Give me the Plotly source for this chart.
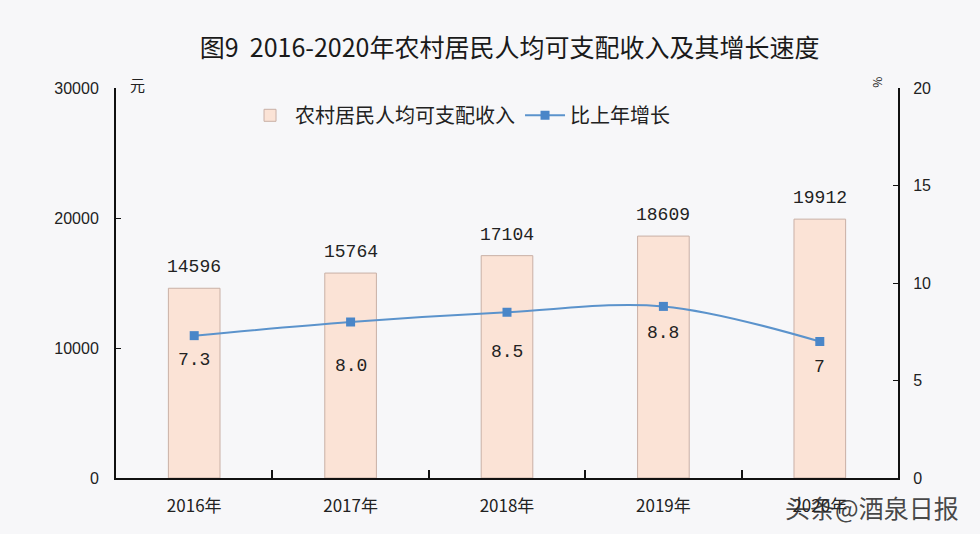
import plotly.graph_objects as go

years = ["2016年", "2017年", "2018年", "2019年", "2020年"]
income = [14596, 15764, 17104, 18609, 19912]
growth = [7.3, 8.0, 8.5, 8.8, 7]
growth_text = ["7.3", "8.0", "8.5", "8.8", "7"]

# label offsets below the markers (px), as placed in the original
growth_label_shift = [-24, -44, -40, -27, -25]

bar_fill = "#fbe3d6"
bar_edge = "#c9b0a6"
line_color = "#5b93cc"
marker_color = "#4a86c8"
cjk = "Noto Sans CJK SC"
mono = "Liberation Mono"

fig = go.Figure()

fig.add_trace(go.Bar(
    x=years, y=income, name="农村居民人均可支配收入",
    width=0.33,
    marker=dict(color=bar_fill, line=dict(color=bar_edge, width=1)),
))

fig.add_trace(go.Scatter(
    x=years, y=growth, name="比上年增长", yaxis="y2",
    mode="lines+markers",
    line=dict(color=line_color, width=2, shape="spline", smoothing=1),
    marker=dict(symbol="square", size=9, color=marker_color),
))

# value labels above the bars
for yr, v in zip(years, income):
    fig.add_annotation(x=yr, y=v, text=str(v), showarrow=False, yshift=21,
                       font=dict(family=mono, size=18, color="#222"))

for yr, g, t, dy in zip(years, growth, growth_text, growth_label_shift):
    fig.add_annotation(x=yr, y=g, yref="y2", text=t, showarrow=False,
                       yshift=dy, font=dict(family=mono, size=18, color="#222"))

fig.add_annotation(text="元", xref="paper", yref="paper", x=0.015, y=1.04,
                   showarrow=False, font=dict(family=cjk, size=15, color="#222"))
fig.add_annotation(text="%", xref="paper", yref="paper", x=0.988, y=1.035,
                   showarrow=False, textangle=90,
                   font=dict(family=cjk, size=12, color="#222"))

# watermark laid over the last category label, as in the source image
fig.add_annotation(text="头条@酒泉日报", xref="paper", yref="paper",
                   x=1.08, y=-0.125, xanchor="right", showarrow=False,
                   font=dict(family=cjk, size=25, color="rgba(40,40,40,0.85)"))

fig.update_layout(
    width=980, height=534,
    title=dict(text="图9  2016-2020年农村居民人均可支配收入及其增长速度",
               x=0.52, xanchor="center", y=0.91, yanchor="middle",
               font=dict(family=cjk, size=25, color="#1a1a1a")),
    font=dict(family=cjk, color="#222"),
    paper_bgcolor="#f7f7f9", plot_bgcolor="#f7f7f9",
    margin=dict(l=116, r=82, t=88, b=56),
    showlegend=True,
    legend=dict(orientation="h", x=0.165, y=0.93, xanchor="left", yanchor="middle",
                bgcolor="rgba(0,0,0,0)", font=dict(family=cjk, size=20, color="#222"),
                itemwidth=40),
    xaxis=dict(showline=True, linecolor="#111", linewidth=2,
               ticks="inside", ticklen=8, tickcolor="#111", tickwidth=2,
               tickson="boundaries", showgrid=False,
               tickfont=dict(family=cjk, size=17, color="#222"),
               ticklabelstandoff=12),
    yaxis=dict(range=[0, 30000], dtick=10000, tickformat="d",
               showline=True, linecolor="#111",
               linewidth=2, ticks="inside", ticklen=5, tickcolor="#111",
               showgrid=False, zeroline=False,
               tickfont=dict(family="Liberation Sans", size=16, color="#222"),
               ticklabelstandoff=12),
    yaxis2=dict(range=[0, 20], dtick=5, overlaying="y", side="right",
                showline=True, linecolor="#111", linewidth=2,
                ticks="inside", ticklen=5, tickcolor="#111",
                showgrid=False, zeroline=False,
                tickfont=dict(family="Liberation Sans", size=16, color="#222"),
                ticklabelstandoff=10),
)

fig.write_html("out.html", config={"displayModeBar": False},
               post_script="document.body.style.margin='0';document.body.style.padding='0';")
